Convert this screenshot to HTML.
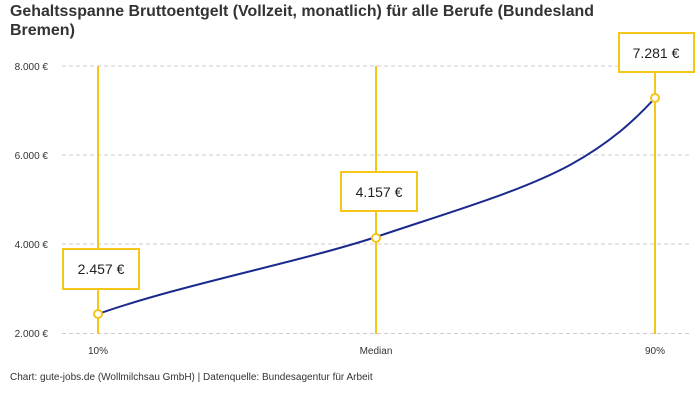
<!DOCTYPE html>
<html><head><meta charset="utf-8"><style>
body{margin:0;background:#fff;width:700px;height:400px;overflow:hidden;font-family:"Liberation Sans",sans-serif}
</style></head><body>
<svg width="700" height="400" xmlns="http://www.w3.org/2000/svg" font-family="Liberation Sans, sans-serif">
<text x="10" y="16" font-size="16" font-weight="bold" fill="#333" textLength="584" lengthAdjust="spacingAndGlyphs">Gehaltsspanne Bruttoentgelt (Vollzeit, monatlich) für alle Berufe (Bundesland</text>
<text x="10" y="35" font-size="16" font-weight="bold" fill="#333">Bremen)</text>
<g stroke="#ccc" stroke-dasharray="4,3" stroke-width="1">
<line x1="62" y1="66" x2="690" y2="66"/><line x1="62" y1="155" x2="690" y2="155"/>
<line x1="62" y1="244" x2="690" y2="244"/><line x1="62" y1="333.5" x2="690" y2="333.5"/>
</g>
<g font-size="10" fill="#333" text-anchor="end">
<text x="48" y="70">8.000 €</text><text x="48" y="159">6.000 €</text>
<text x="48" y="248">4.000 €</text><text x="48" y="337">2.000 €</text>
</g>
<g font-size="10" fill="#333" text-anchor="middle">
<text x="98" y="354">10%</text><text x="376" y="354">Median</text><text x="655" y="354">90%</text>
</g>
<g stroke="#f5c518" stroke-width="2">
<line x1="98" y1="66" x2="98" y2="334"/><line x1="376" y1="66" x2="376" y2="334"/><line x1="655" y1="66" x2="655" y2="334"/>
</g>
<path d="M98,314 C180,285 300,262 376,237 C450,212 520,192 570,165 C610,143 635,120 655,98" fill="none" stroke="#1a2a8c" stroke-width="2"/>
<g fill="#fff" stroke="#f5c518" stroke-width="2">
<circle cx="98" cy="314" r="4"/><circle cx="376" cy="238" r="4"/><circle cx="655" cy="98" r="4"/>
<rect x="63" y="249" width="76" height="40"/><rect x="341" y="172" width="76" height="39"/><rect x="619" y="33" width="75" height="39"/>
</g>
<g font-size="14" fill="#222" text-anchor="middle">
<text x="101" y="274">2.457 €</text><text x="379" y="197">4.157 €</text><text x="656" y="58">7.281 €</text>
</g>
<text x="10" y="380" font-size="10" fill="#333">Chart: gute-jobs.de (Wollmilchsau GmbH) | Datenquelle: Bundesagentur für Arbeit</text>
</svg>
</body></html>
